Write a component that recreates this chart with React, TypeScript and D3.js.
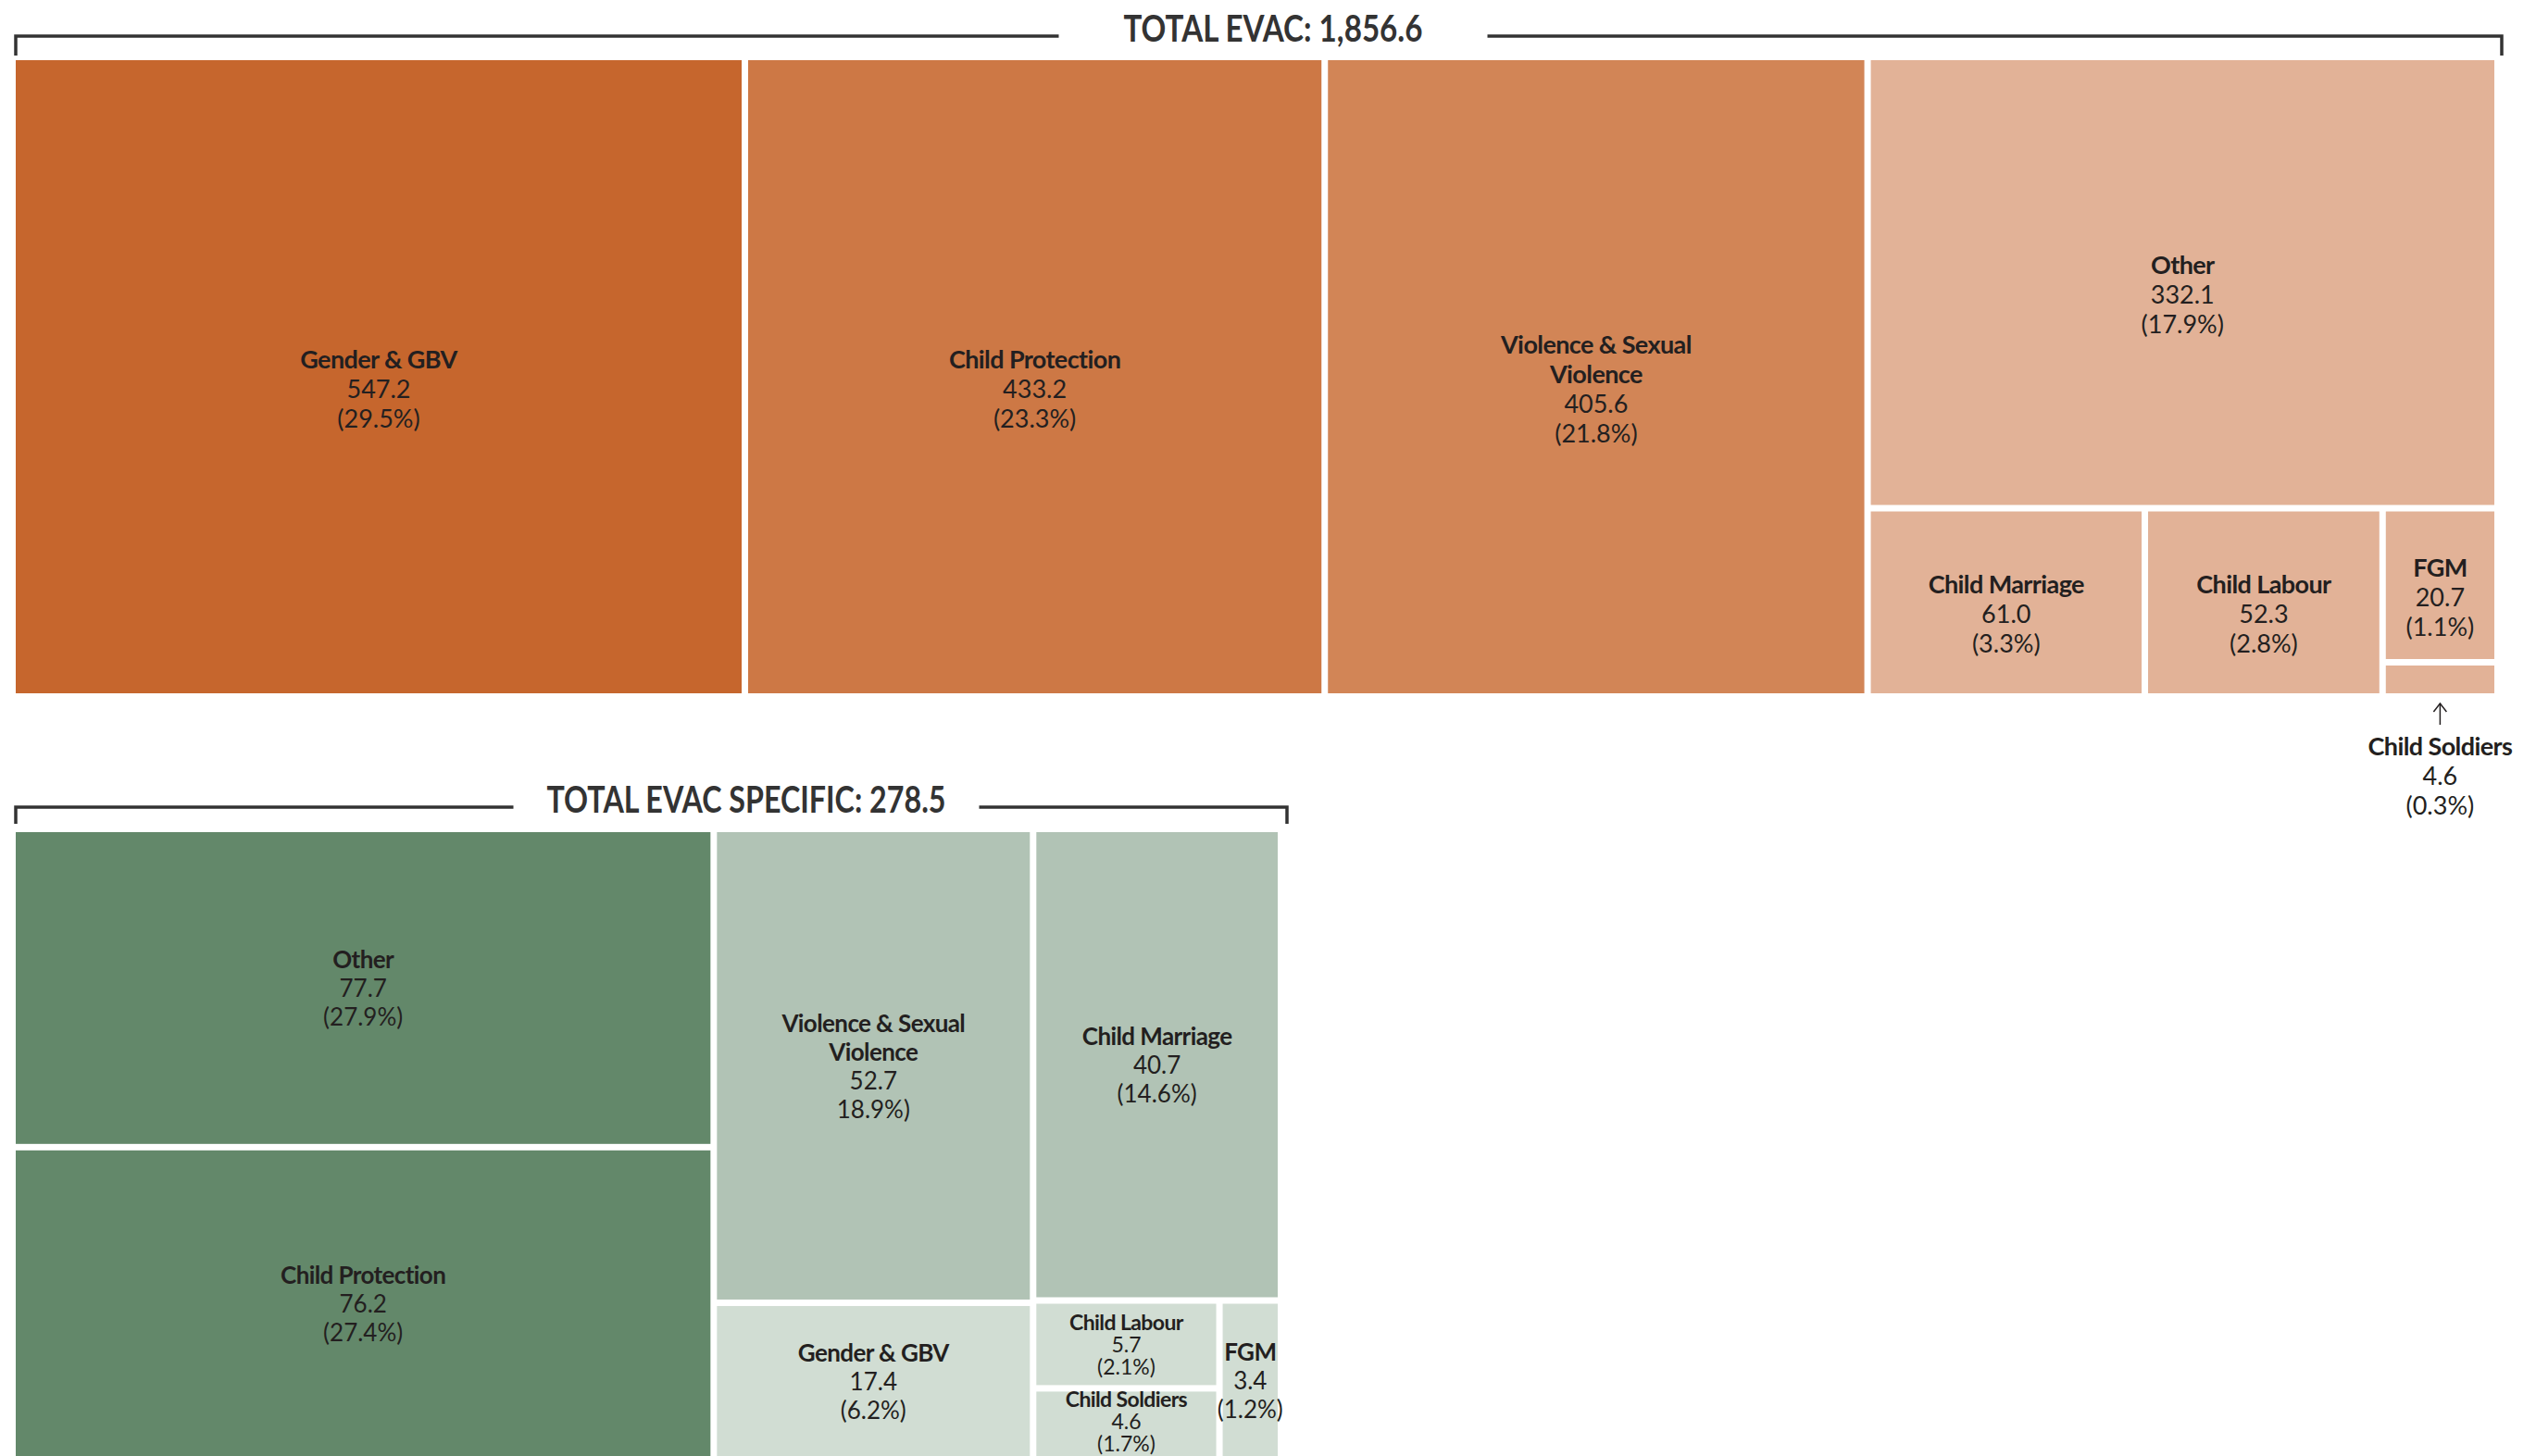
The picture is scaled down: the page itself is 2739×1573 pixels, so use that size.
import React, { useEffect, useRef } from 'react';
import * as d3 from 'd3';

// TOTAL EVAC by theme
const evacNames = ['Gender & GBV', 'Child Protection', 'Violence & Sexual Violence', 'Other', 'Child Marriage', 'Child Labour', 'FGM', 'Child Soldiers'];
const evacValues = [547.2, 433.2, 405.6, 332.1, 61.0, 52.3, 20.7, 4.6];
const evacShares = ['(29.5%)', '(23.3%)', '(21.8%)', '(17.9%)', '(3.3%)', '(2.8%)', '(1.1%)', '(0.3%)'];
const evacTitle = 'TOTAL EVAC: 1,856.6';

// TOTAL EVAC SPECIFIC by theme
const specNames = ['Other', 'Child Protection', 'Violence & Sexual Violence', 'Gender & GBV', 'Child Marriage', 'Child Labour', 'Child Soldiers', 'FGM'];
const specValues = [77.7, 76.2, 52.7, 17.4, 40.7, 5.7, 4.6, 3.4];
const specShares = ['(27.9%)', '(27.4%)', '18.9%)', '(6.2%)', '(14.6%)', '(2.1%)', '(1.7%)', '(1.2%)'];
const specTitle = 'TOTAL EVAC SPECIFIC: 278.5';

// grouping of the tiles (columns / rows alternate with depth)
const evacNest = ['Gender & GBV', 'Child Protection', 'Violence & Sexual Violence', ['Other', ['Child Marriage', 'Child Labour', ['FGM', 'Child Soldiers']]]];
const specNest = [['Other', 'Child Protection'], ['Violence & Sexual Violence', 'Gender & GBV'], ['Child Marriage', [['Child Labour', 'Child Soldiers'], 'FGM']]];

const evacColors = {
  'Gender & GBV': '#c6662d',
  'Child Protection': '#cd7845',
  'Violence & Sexual Violence': '#d28556',
  'Other': '#e2b297',
  'Child Marriage': '#e2b297',
  'Child Labour': '#e2b297',
  'FGM': '#e2b297',
  'Child Soldiers': '#e2b297',
};
const specColors = {
  'Other': '#63886a',
  'Child Protection': '#63886a',
  'Violence & Sexual Violence': '#b1c3b5',
  'Child Marriage': '#b1c3b5',
  'Gender & GBV': '#d1ddd3',
  'Child Labour': '#d1ddd3',
  'Child Soldiers': '#d1ddd3',
  'FGM': '#d1ddd3',
};

const W = 2739;
const H = 1573;
const wrapped = { 'Violence & Sexual Violence': ['Violence & Sexual', 'Violence'] };
const ink = '#231f20';
const font = 'Lato, "Open Sans", sans-serif';
const fmt = d3.format('.1f');

function toTree(nest, names, values) {
  return {
    children: nest.map(n =>
      typeof n === 'string'
        ? { name: n, value: values[names.indexOf(n)] }
        : toTree(n, names, values)
    ),
  };
}

function drawTreemap(svg, cfg) {
  const root = d3.hierarchy(toTree(cfg.nest, cfg.names, cfg.values)).sum(d => d.value || 0);
  d3.treemap()
    .tile(d3.treemapSliceDice)
    .size([cfg.x1 - cfg.x0, cfg.y1 - cfg.y0])
    .paddingInner(7)(root);

  const g = svg.append('g').attr('transform', `translate(${cfg.x0},${cfg.y0})`);
  const leaves = root.leaves();

  g.selectAll('rect')
    .data(leaves)
    .join('rect')
    .attr('x', d => d.x0)
    .attr('y', d => d.y0)
    .attr('width', d => d.x1 - d.x0)
    .attr('height', d => d.y1 - d.y0)
    .attr('fill', d => cfg.colors[d.data.name]);

  leaves.forEach(d => {
    const i = cfg.names.indexOf(d.data.name);
    const lines = [
      ...(wrapped[d.data.name] || [d.data.name]).map(t => ({ t, bold: true })),
      { t: fmt(cfg.values[i]), bold: false },
      { t: cfg.shares[i], bold: false },
    ];
    const cx = (d.x0 + d.x1) / 2;
    const outside = cfg.outside === d.data.name;
    const h = d.y1 - d.y0;
    // small tiles get a tighter label
    const tight = !outside && h < lines.length * cfg.lh + 10;
    const fs = tight ? cfg.fs - 3 : cfg.fs;
    const lh = tight ? fs + 1 : cfg.lh;
    let top;
    if (outside) {
      // label hangs below the tile, with a small arrow pointing up
      const a0 = d.y1 + 11, a1 = d.y1 + 34;
      g.append('line').attr('x1', cx).attr('x2', cx).attr('y1', a0).attr('y2', a1)
        .attr('stroke', ink).attr('stroke-width', 1.5);
      g.append('path').attr('d', `M${cx - 7},${a0 + 9}L${cx},${a0}L${cx + 7},${a0 + 9}`)
        .attr('fill', 'none').attr('stroke', ink).attr('stroke-width', 1.5);
      top = d.y1 + 56;
    } else {
      top = (d.y0 + d.y1) / 2 - ((lines.length - 1) * lh) / 2 + (tight ? 0 : cfg.dy);
      // keep the block above the bottom edge of the page
      const maxTop = H - cfg.y0 - 14 - (lines.length - 1) * lh;
      top = Math.min(top, maxTop);
    }
    const text = g.append('text')
      .attr('text-anchor', 'middle')
      .attr('font-family', font)
      .attr('fill', ink);
    lines.forEach((l, k) => {
      text.append('tspan')
        .attr('x', cx)
        .attr('y', top + k * lh)
        .attr('dominant-baseline', 'central')
        .attr('font-size', fs)
        .attr('font-weight', l.bold ? 700 : 400)
        .attr('letter-spacing', l.bold ? -0.6 : 0)
        .text(l.t);
    });
  });

  // bracket with total on top
  const b = cfg.bracket;
  const half = b.titleWidth / 2;
  svg.append('path')
    .attr('d', `M${b.x0},${b.tickY}V${b.y}H${b.cx - half - b.gap}M${b.cx + half + b.gap},${b.y}H${b.x1}V${b.tickY}`)
    .attr('fill', 'none')
    .attr('stroke', '#333')
    .attr('stroke-width', 3.5);
  svg.append('text')
    .attr('x', b.cx)
    .attr('y', b.y + 6)
    .attr('text-anchor', 'middle')
    .attr('font-family', font)
    .attr('font-weight', 700)
    .attr('font-size', 40)
    .attr('fill', '#333')
    .attr('textLength', b.titleWidth)
    .attr('lengthAdjust', 'spacingAndGlyphs')
    .text(cfg.title);
}

function EvacTreemaps() {
  const svgRef = useRef();

  useEffect(() => {
    const svg = d3.select(svgRef.current);
    svg.selectAll('*').remove();

    drawTreemap(svg, {
      names: evacNames, values: evacValues, shares: evacShares, nest: evacNest,
      colors: evacColors, title: evacTitle,
      x0: 17, x1: 2694, y0: 65, y1: 749,
      fs: 27, lh: 32, dy: 12, outside: 'Child Soldiers',
      bracket: { x0: 17, x1: 2702, y: 39, tickY: 60, cx: 1375, titleWidth: 323, gap: 70 },
    });

    drawTreemap(svg, {
      names: specNames, values: specValues, shares: specShares, nest: specNest,
      colors: specColors, title: specTitle,
      x0: 17, x1: 1380, y0: 899, y1: H,
      fs: 26, lh: 31, dy: 0, outside: null,
      bracket: { x0: 17, x1: 1390, y: 872, tickY: 890, cx: 806, titleWidth: 431, gap: 36 },
    });
  }, []);

  return (
    <svg ref={svgRef} width={W} height={H}
      style={{ position: 'absolute', left: 0, top: 0, background: '#fff' }} />
  );
}

export default function App() {
  return <EvacTreemaps />;
}
